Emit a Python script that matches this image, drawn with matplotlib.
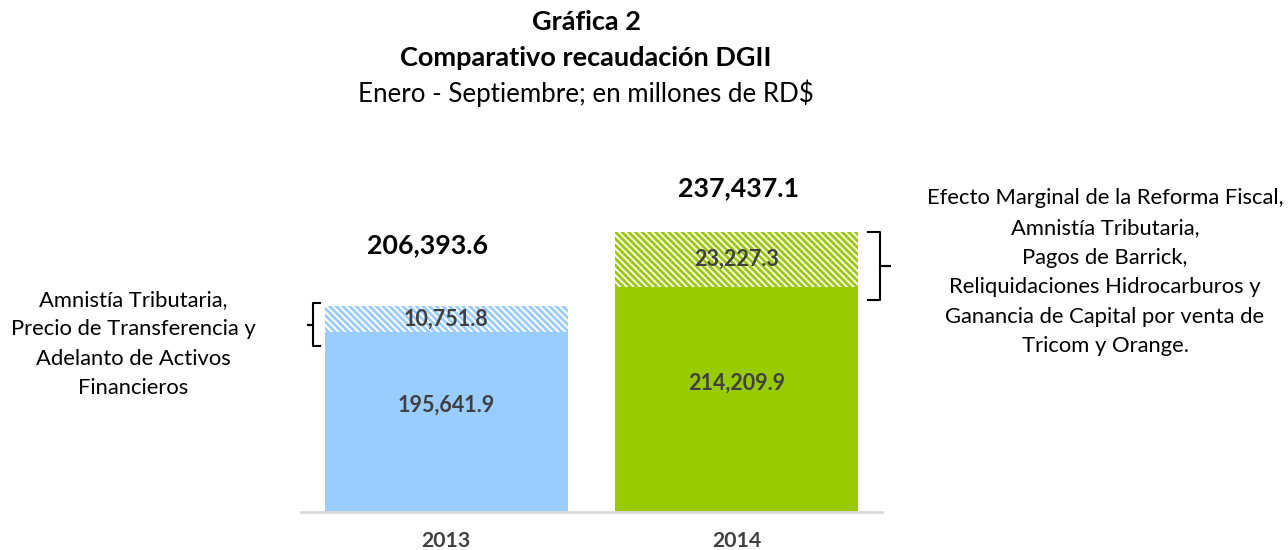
import matplotlib
matplotlib.use('Agg')
import matplotlib.pyplot as plt

plt.rcParams['font.family'] = ['Lato', 'DejaVu Sans']
plt.rcParams['hatch.linewidth'] = 1.4

# datos (millones de RD$)
years = ['2013', '2014']
base_values = [195641.9, 214209.9]
extra_values = [10751.8, 23227.3]
total_labels = ['206,393.6', '237,437.1']
base_colors = ['#99CCFF', '#99CC00']

left_note = 'Amnistía Tributaria,\nPrecio de Transferencia y\nAdelanto de Activos\nFinancieros'
right_note = ('Efecto Marginal de la Reforma Fiscal,\nAmnistía Tributaria,\nPagos de Barrick,\n'
              'Reliquidaciones Hidrocarburos y\nGanancia de Capital por venta de\nTricom y Orange.')

y_min = 120000
y_max = 260000

fig = plt.figure(figsize=(12.88, 5.5), dpi=100)
ax = fig.add_axes([0.2337, 0.069, 0.451, 0.607])

x = range(len(years))
ax.bar(x, base_values, width=0.836, color=base_colors, linewidth=0)
ax.bar(x, extra_values, width=0.836, bottom=base_values, color=base_colors,
       edgecolor='white', hatch='\\\\\\\\\\', linewidth=0)

ax.set_xlim(-0.5, 1.5)
ax.set_ylim(y_min, y_max)

for i in x:
    ax.text(i, (y_min + base_values[i]) / 2 + 7000, f'{base_values[i]:,.1f}',
            ha='center', va='center', fontsize=15.5, fontweight='bold', color='#404040')
    ax.text(i, base_values[i] + extra_values[i] / 2, f'{extra_values[i]:,.1f}',
            ha='center', va='center', fontsize=15.5, fontweight='bold', color='#404040')

# totales
ax.text(-0.066, base_values[0] + extra_values[0] + 25500, total_labels[0],
        ha='center', va='center', fontsize=19.3, fontweight='bold', color='black')
ax.text(1.005, base_values[1] + extra_values[1] + 18400, total_labels[1],
        ha='center', va='center', fontsize=19.3, fontweight='bold', color='black')

for s in ['top', 'left', 'right']:
    ax.spines[s].set_visible(False)
ax.spines['bottom'].set_color('#D9D9D9')
ax.spines['bottom'].set_linewidth(2)
ax.set_yticks([])
ax.set_xticks(list(x))
ax.set_xticklabels(years, fontsize=15.3, fontweight='bold', color='#404040')
ax.tick_params(axis='x', length=0, pad=14)

# titulos
fig.text(0.455, 1 - 22 / 550, 'Gráfica 2', ha='center', va='center',
         fontsize=19.5, fontweight='bold')
fig.text(0.455, 1 - 58 / 550, 'Comparativo recaudación DGII', ha='center', va='center',
         fontsize=19.5, fontweight='bold')
fig.text(0.455, 1 - 93 / 550, 'Enero - Septiembre; en millones de RD$', ha='center',
         va='center', fontsize=18.6)

# notas laterales
fig.text(133 / 1288, 1 - 344 / 550, left_note, ha='center', va='center',
         fontsize=15.8, linespacing=1.6)
fig.text(1105 / 1288, 1 - 272.5 / 550, right_note, ha='center', va='center',
         fontsize=15.8, linespacing=1.6)

# llaves
lb_x = [320, 313, 313, 308, 313, 313, 320]
lb_y = [303, 303, 325, 325, 325, 346, 346]
fig.add_artist(plt.Line2D([v / 1288 for v in lb_x], [1 - v / 550 for v in lb_y],
                          color='black', lw=1.5))
rb_x = [868, 880, 880, 890, 880, 880, 868]
rb_y = [232, 232, 266, 266, 266, 300, 300]
fig.add_artist(plt.Line2D([v / 1288 for v in rb_x], [1 - v / 550 for v in rb_y],
                          color='black', lw=1.5))

fig.savefig('out.png', dpi=100)
